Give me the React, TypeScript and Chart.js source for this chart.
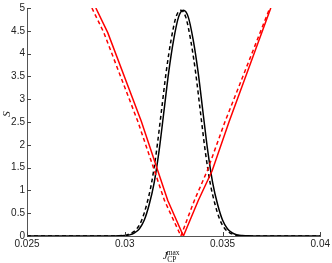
import React, { useEffect, useRef } from 'react';
import { Chart, registerables } from 'chart.js';

Chart.register(...registerables);

// ---- data ----
const xTickLabels = ['0.025', '0.03', '0.035', '0.04'];
const yTickLabels = ['0', '0.5', '1', '1.5', '2', '2.5', '3', '3.5', '4', '4.5', '5'];

const blackSolidX = [0.025, 0.0295, 0.02975, 0.03, 0.03025, 0.0305, 0.03075, 0.031, 0.03125, 0.0315, 0.03175, 0.032, 0.03225, 0.0325, 0.03275, 0.033, 0.03325, 0.0335, 0.03375, 0.034, 0.03425, 0.0345, 0.03475, 0.035, 0.03525, 0.0355, 0.03575, 0.036, 0.03625, 0.0365, 0.04];
const blackSolidS = [0, 0, 0.005, 0.01, 0.025, 0.07, 0.16, 0.35, 0.69, 1.16, 1.85, 2.72, 3.6, 4.3, 4.8, 4.95, 4.8, 4.3, 3.6, 2.72, 1.85, 1.16, 0.69, 0.35, 0.16, 0.07, 0.025, 0.01, 0.005, 0, 0];

const blackDashedX = [0.025, 0.02937, 0.02962, 0.02987, 0.03012, 0.03037, 0.03062, 0.03087, 0.03112, 0.03137, 0.03162, 0.03187, 0.03212, 0.03237, 0.03262, 0.03287, 0.03312, 0.03337, 0.03362, 0.03387, 0.03412, 0.03437, 0.03462, 0.03487, 0.03512, 0.03537, 0.03562, 0.03587, 0.03612, 0.03637, 0.04];
const blackDashedS = [0, 0, 0.005, 0.01, 0.025, 0.07, 0.16, 0.35, 0.69, 1.16, 1.85, 2.72, 3.6, 4.3, 4.8, 4.95, 4.8, 4.3, 3.6, 2.72, 1.85, 1.16, 0.69, 0.35, 0.16, 0.07, 0.025, 0.01, 0.005, 0, 0];

const redSolidX = [0.02852, 0.02913, 0.03085, 0.03169, 0.0322, 0.033, 0.03376, 0.03447, 0.03534, 0.03747];
const redSolidS = [5.0, 4.46, 2.51, 1.43, 0.78, 0, 0.78, 1.43, 2.51, 5.0];

const redDashedX = [0.02832, 0.02893, 0.03067, 0.03152, 0.03203, 0.03287, 0.03356, 0.03422, 0.03513, 0.03742];
const redDashedS = [5.0, 4.46, 2.51, 1.43, 0.78, 0, 0.78, 1.43, 2.51, 5.0];

const toPoints = (xs: number[], ys: number[]) => xs.map((x, i) => ({ x, y: ys[i] }));

const TICK_FONT = { family: '"Liberation Sans", Arial, Helvetica, sans-serif', size: 10 };

const decorPlugin = {
  id: 'decor',
  afterDraw(chart: any) {
    const { ctx, chartArea, scales } = chart;
    const xs = scales.x;
    const ys = scales.y;
    ctx.save();
    // inward tick marks
    ctx.strokeStyle = '#444';
    ctx.lineWidth = 1;
    ctx.beginPath();
    ys.ticks.forEach((t: any) => {
      const y = Math.round(ys.getPixelForValue(t.value)) + 0.5;
      ctx.moveTo(chartArea.left, y);
      ctx.lineTo(chartArea.left + 4, y);
    });
    xs.ticks.forEach((t: any) => {
      const x = Math.round(xs.getPixelForValue(t.value)) + 0.5;
      ctx.moveTo(x, chartArea.bottom);
      ctx.lineTo(x, chartArea.bottom - 4);
    });
    ctx.stroke();

    // y-axis label "S"
    ctx.fillStyle = '#111';
    ctx.save();
    ctx.translate(7, (chartArea.top + chartArea.bottom) / 2 - 8);
    ctx.rotate(-Math.PI / 2);
    ctx.font = 'italic 11px "Liberation Serif", "Times New Roman", serif';
    ctx.textAlign = 'center';
    ctx.textBaseline = 'middle';
    ctx.fillText('S', 0, 0);
    ctx.restore();

    // x-axis label J_CP^max
    const cx = (chartArea.left + chartArea.right) / 2;
    ctx.textAlign = 'left';
    ctx.textBaseline = 'alphabetic';
    ctx.font = 'italic 11px "Liberation Serif", "Times New Roman", serif';
    ctx.fillText('J', cx - 11, 259);
    ctx.font = '7.5px "Liberation Serif", "Times New Roman", serif';
    ctx.fillText('max', cx - 7, 255);
    ctx.fillText('CP', cx - 6.5, 262);
    ctx.restore();
  },
};

export default function App() {
  const canvasRef = useRef<HTMLCanvasElement | null>(null);

  useEffect(() => {
    const canvas = canvasRef.current;
    if (!canvas) return;
    const chart = new Chart(canvas, {
      type: 'line',
      data: {
        datasets: [
          {
            data: toPoints(blackSolidX, blackSolidS),
            borderColor: '#000000',
            borderWidth: 1.5,
            cubicInterpolationMode: 'monotone',
            pointRadius: 0,
            order: 2,
          },
          {
            data: toPoints(blackDashedX, blackDashedS),
            borderColor: '#000000',
            borderWidth: 1.5,
            borderDash: [4, 3],
            cubicInterpolationMode: 'monotone',
            pointRadius: 0,
            order: 3,
          },
          {
            data: toPoints(redSolidX, redSolidS),
            borderColor: '#ff0000',
            borderWidth: 1.5,
            tension: 0,
            pointRadius: 0,
            order: 0,
          },
          {
            data: toPoints(redDashedX, redDashedS),
            borderColor: '#ff0000',
            borderWidth: 1.5,
            borderDash: [4, 3],
            tension: 0,
            pointRadius: 0,
            order: 1,
          },
        ],
      },
      options: {
        animation: false,
        responsive: false,
        maintainAspectRatio: false,
        layout: { padding: { top: 5, right: 10, left: 0, bottom: 0 } },
        plugins: { legend: { display: false }, tooltip: { enabled: false } },
        scales: {
          x: {
            type: 'linear',
            min: 0.025,
            max: 0.04,
            grid: { display: false, drawTicks: false },
            border: { display: true, color: '#555', width: 1 },
            ticks: {
              stepSize: 0.005,
              padding: 2,
              maxRotation: 0,
              autoSkip: false,
              color: '#222',
              font: TICK_FONT,
              callback: (_v: any, i: number) => xTickLabels[i],
            },
            afterFit: (s: any) => {
              s.height = 27;
            },
          },
          y: {
            type: 'linear',
            min: 0,
            max: 5,
            grid: { display: false, drawTicks: false },
            border: { display: true, color: '#555', width: 1 },
            ticks: {
              stepSize: 0.5,
              padding: 2,
              autoSkip: false,
              color: '#222',
              font: TICK_FONT,
              callback: (_v: any, i: number) => yTickLabels[i],
            },
            afterFit: (s: any) => {
              s.width = 27;
            },
          },
        },
      },
      plugins: [decorPlugin],
    });
    return () => chart.destroy();
  }, []);

  return (
    <div style={{ position: 'fixed', left: 0, top: 0, width: 332, height: 263, background: '#fff' }}>
      <canvas ref={canvasRef} width={332} height={263} style={{ display: 'block', width: 332, height: 263 }} />
    </div>
  );
}
